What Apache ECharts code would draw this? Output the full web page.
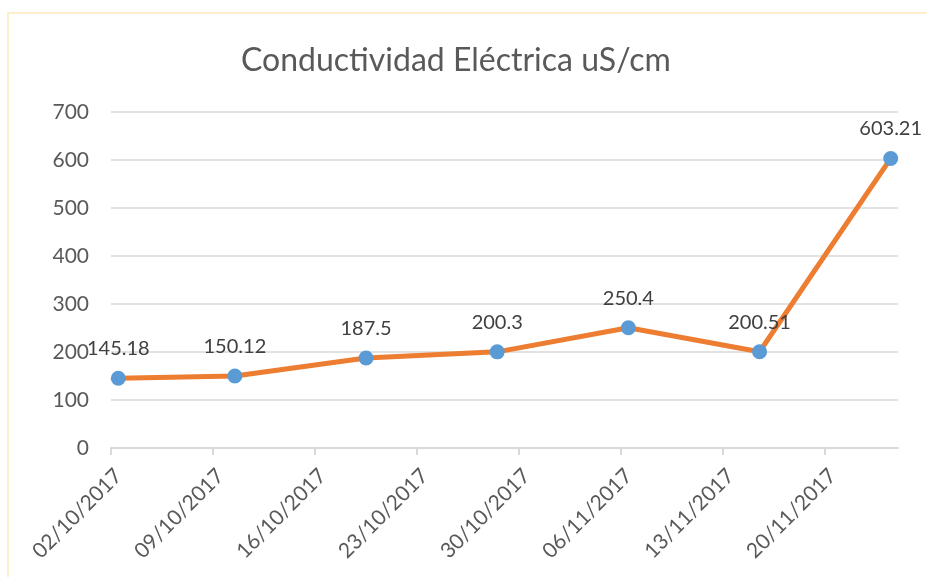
<!DOCTYPE html>
<html>
<head>
<meta charset="utf-8">
<script src="https://cdn.jsdelivr.net/npm/echarts@6/dist/echarts.min.js"></script>
<style>
html,body{margin:0;padding:0;background:#fff;}
#frame{position:absolute;left:7px;top:12px;width:2000px;height:2000px;
    border-top:2px solid #fdefcb;border-left:2px solid #fdefcb;}
#chart{position:absolute;left:0;top:0;width:927px;height:577px;}
</style>
</head>
<body>
<div id="frame"></div>
<div id="chart"></div>
<script>
// fechas de muestreo y conductividad (uS/cm)
const fechas = ['02/10/2017','10/10/2017','19/10/2017','28/10/2017','06/11/2017','15/11/2017','24/11/2017'];
const valores = [145.18, 150.12, 187.5, 200.3, 250.4, 200.51, 603.21];
const inicio = '02/10/2017';
const diasEje = 54;      // el eje llega hasta el 25/11/2017
const pasoDias = 7;
const etiquetasY = [0,100,200,300,400,500,600,700];

const DIA = 86400000;
function parseFecha(s){
    let p = s.split('/');
    return Date.UTC(+p[2], +p[1]-1, +p[0]);
}
function fmtFecha(dias){
    let d = new Date(parseFecha(inicio) + dias*DIA);
    let dd = String(d.getUTCDate()).padStart(2,'0');
    let mm = String(d.getUTCMonth()+1).padStart(2,'0');
    return dd + '/' + mm + '/' + d.getUTCFullYear();
}
const t0 = parseFecha(inicio);
// cada fecha ocupa un día; el punto va en el centro del día
let puntos = fechas.map((f,i)=>[(parseFecha(f)-t0)/DIA + 0.5, valores[i]]);
let marcas = [];
for(let d=0; d<diasEje; d+=pasoDias){ marcas.push(d); }

let chart = echarts.init(document.getElementById('chart'));
let option = {
    textStyle:{fontFamily:'Lato'},
    title:{
        text:'Conductividad Eléctrica uS/cm',
        left:236,
        top:40,
        textStyle:{color:'#595959',fontSize:32,fontWeight:'normal',fontFamily:'Lato'}
    },
    grid:{left:111,right:29,top:112,bottom:129},
    xAxis:{
        type:'value',
        min:0,
        max:diasEje,
        axisLine:{lineStyle:{color:'#d9d9d9',width:2}},
        axisTick:{customValues:marcas,length:7,lineStyle:{color:'#d9d9d9',width:2}},
        axisLabel:{
            customValues:marcas,
            rotate:45,
            margin:17,
            verticalAlign:'top',
            color:'#595959',
            fontSize:21,
            formatter:v=>fmtFecha(v)
        },
        splitLine:{show:false}
    },
    yAxis:{
        type:'value',
        min:etiquetasY[0],
        max:etiquetasY[etiquetasY.length-1],
        interval:100,
        axisLine:{show:false},
        axisTick:{show:false},
        axisLabel:{color:'#595959',fontSize:21,margin:22},
        splitLine:{lineStyle:{color:'#d9d9d9',width:1.5}}
    },
    series:[{
        type:'line',
        data:puntos,
        symbol:'circle',
        symbolSize:15,
        lineStyle:{color:'#ed7d31',width:5},
        itemStyle:{color:'#5b9bd5'},
        label:{
            show:true,
            position:'top',
            distance:12,
            color:'#404040',
            fontSize:20,
            formatter:p=>p.value[1]
        },
        animation:false
    }],
    animation:false
};
chart.setOption(option);
window.onresize = function(){ chart.resize(); };
</script>
</body>
</html>
